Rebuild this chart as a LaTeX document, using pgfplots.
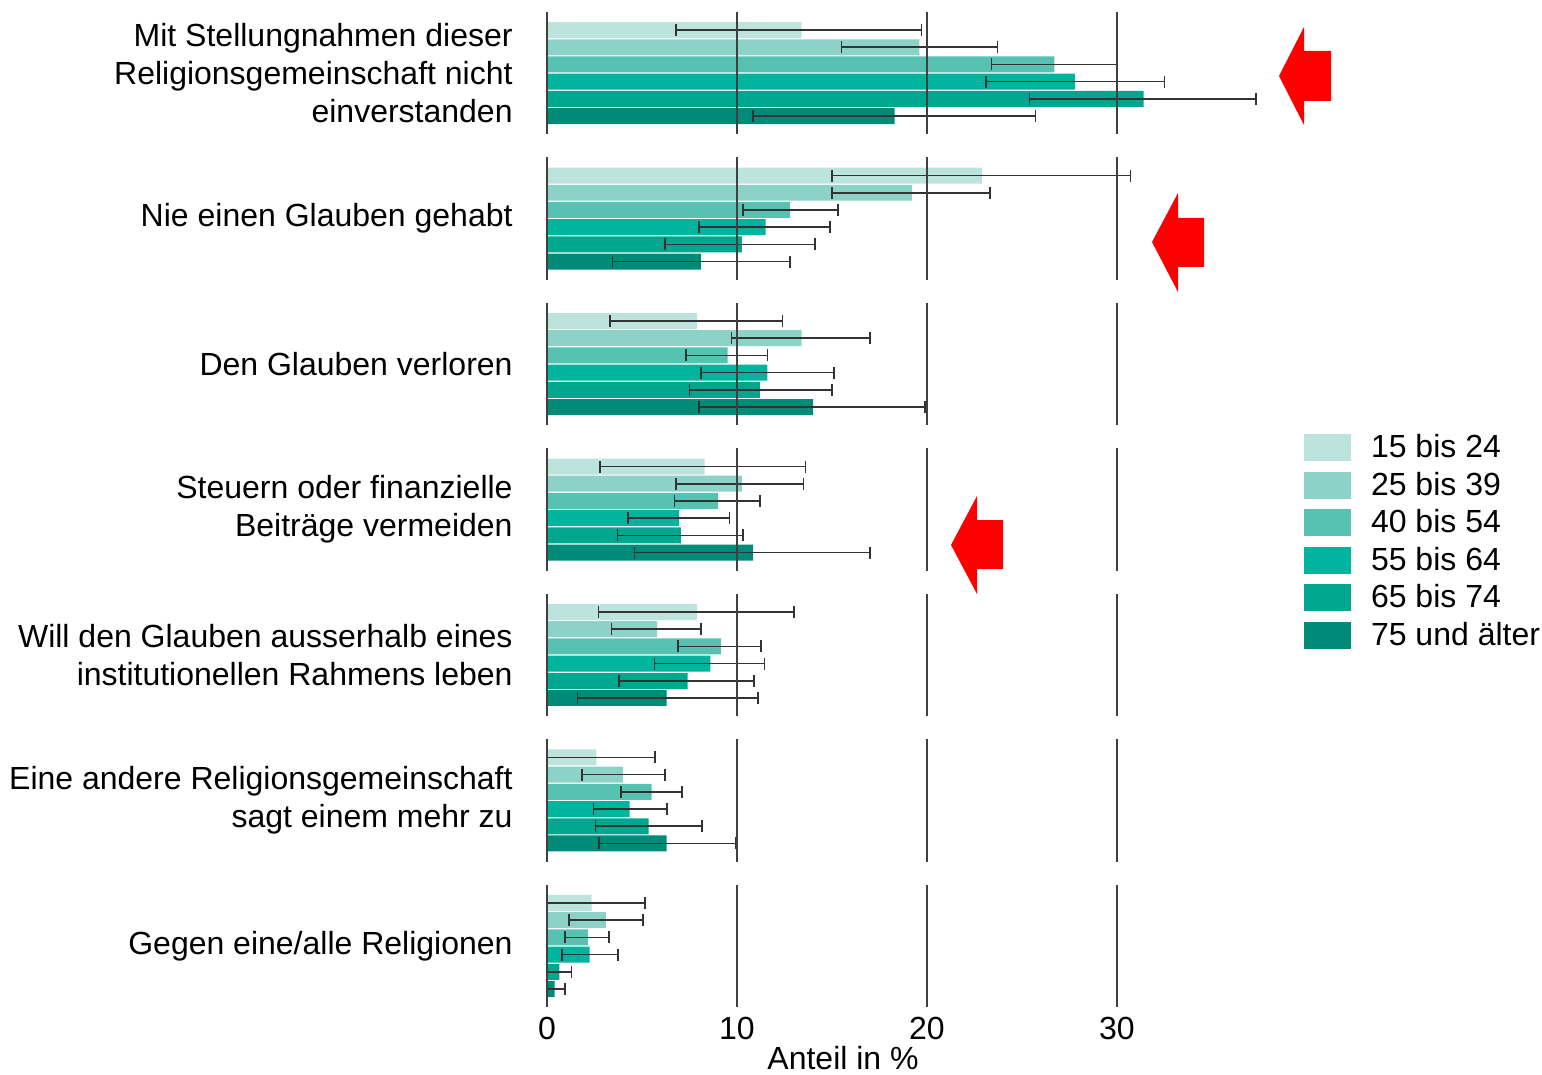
\documentclass[border=0pt]{standalone}
\usepackage{fontspec}
\setmainfont{Liberation Sans}
\usepackage{pgfplots}
\usepackage{pgfplotstable}
\pgfplotsset{compat=1.18}

\definecolor{c1}{HTML}{BDE4DC}
\definecolor{c2}{HTML}{8DD2C6}
\definecolor{c3}{HTML}{57C2B1}
\definecolor{c4}{HTML}{00B49E}
\definecolor{c5}{HTML}{00A78F}
\definecolor{c6}{HTML}{008B79}
\definecolor{errc}{HTML}{333333}
\definecolor{gridc}{HTML}{404040}

\newcommand{\lbl}{\fontsize{16}{19}\selectfont}

% p = panel (reason), v = share, lo/hi = interval
\pgfplotstableread{
p v lo hi
0 13.4 6.8 19.7
1 22.9 15.0 30.7
2 7.9 3.3 12.4
3 8.3 2.8 13.6
4 7.9 2.7 13.0
5 2.6 0.0 5.7
6 2.35 0.0 5.15
}\ta
\pgfplotstableread{
p v lo hi
0 19.6 15.5 23.7
1 19.2 15.0 23.3
2 13.4 9.7 17.0
3 10.25 6.8 13.5
4 5.8 3.4 8.1
5 4.0 1.85 6.2
6 3.1 1.15 5.05
}\tb
\pgfplotstableread{
p v lo hi
0 26.7 23.4 30.0
1 12.8 10.3 15.3
2 9.5 7.3 11.6
3 9.0 6.7 11.2
4 9.15 6.9 11.25
5 5.5 3.9 7.1
6 2.15 0.95 3.25
}\tc
\pgfplotstableread{
p v lo hi
0 27.8 23.1 32.5
1 11.5 8.0 14.9
2 11.6 8.1 15.1
3 6.95 4.25 9.6
4 8.6 5.65 11.45
5 4.35 2.45 6.3
6 2.25 0.8 3.75
}\td
\pgfplotstableread{
p v lo hi
0 31.4 25.4 37.3
1 10.25 6.2 14.1
2 11.2 7.5 15.0
3 7.05 3.7 10.3
4 7.4 3.8 10.9
5 5.35 2.55 8.15
6 0.65 0.0 1.3
}\te
\pgfplotstableread{
p v lo hi
0 18.3 10.85 25.7
1 8.1 3.45 12.8
2 14.0 8.0 19.9
3 10.85 4.6 17.0
4 6.3 1.6 11.1
5 6.3 2.75 9.95
6 0.4 0.0 0.95
}\tf

\pgfplotsset{
  agebar/.style={xbar, bar shift=0pt, bar width=0.93, draw=none, fill=#1,
    error bars/.cd, x dir=both, x explicit, error mark=|,
    error bar style={line width=0.8pt, draw=errc},
    error mark options={line width=0.8pt, draw=errc, mark size=3pt}},
}

\begin{document}
\begin{tikzpicture}
\useasboundingbox (0,0) rectangle (771pt,-537.5pt);
\begin{axis}[
  at={(273.5pt,-6pt)}, anchor=north west,
  scale only axis, width=356.25pt, height=497.5pt,
  xmin=0, xmax=37.5, ymin=-1.05, ymax=56.804, y dir=reverse,
  axis line style={draw=none}, major tick length=0pt,
  clip=false,
  xtick={0,10,20,30},
  ytick={2.5,10.959,19.418,27.877,36.336,44.795,53.254},
  yticklabels={
    {Mit Stellungnahmen dieser\\Religionsgemeinschaft nicht\\einverstanden},
    {Nie einen Glauben gehabt},
    {Den Glauben verloren},
    {Steuern oder finanzielle\\Beiträge vermeiden},
    {Will den Glauben ausserhalb eines\\institutionellen Rahmens leben},
    {Eine andere Religionsgemeinschaft\\sagt einem mehr zu},
    {Gegen eine/alle Religionen}},
  tick label style={font=\lbl, inner sep=0pt},
  yticklabel style={align=right, xshift=-17pt},
  xticklabel style={yshift=-5pt},
  /pgf/number format/assume math mode=true,
  xlabel={Anteil in \%},
  every axis x label/.style={at={(axis description cs:0.4155,0)}, anchor=north,
    yshift=-19.5pt, font=\lbl, inner sep=0pt},
  legend cell align=left,
  legend style={at={(axis description cs:1.0625,0.5759)}, anchor=north west,
    draw=none, fill=none, inner sep=0pt, outer sep=0pt, font=\lbl,
    row sep=5.25pt, nodes={inner sep=0pt}},
  legend image code/.code={\fill[#1,draw=none] (0pt,-6.75pt) rectangle (23.5pt,6.75pt); \path (33.5pt,0pt);},
]
\addplot[agebar=c1] table[x=v, y expr=\thisrow{p}*8.459+0,
  x error plus expr=\thisrow{hi}-\thisrow{v}, x error minus expr=\thisrow{v}-\thisrow{lo}] {\ta};
\addplot[agebar=c2] table[x=v, y expr=\thisrow{p}*8.459+1,
  x error plus expr=\thisrow{hi}-\thisrow{v}, x error minus expr=\thisrow{v}-\thisrow{lo}] {\tb};
\addplot[agebar=c3] table[x=v, y expr=\thisrow{p}*8.459+2,
  x error plus expr=\thisrow{hi}-\thisrow{v}, x error minus expr=\thisrow{v}-\thisrow{lo}] {\tc};
\addplot[agebar=c4] table[x=v, y expr=\thisrow{p}*8.459+3,
  x error plus expr=\thisrow{hi}-\thisrow{v}, x error minus expr=\thisrow{v}-\thisrow{lo}] {\td};
\addplot[agebar=c5] table[x=v, y expr=\thisrow{p}*8.459+4,
  x error plus expr=\thisrow{hi}-\thisrow{v}, x error minus expr=\thisrow{v}-\thisrow{lo}] {\te};
\addplot[agebar=c6] table[x=v, y expr=\thisrow{p}*8.459+5,
  x error plus expr=\thisrow{hi}-\thisrow{v}, x error minus expr=\thisrow{v}-\thisrow{lo}] {\tf};
\legend{15 bis 24, 25 bis 39, 40 bis 54, 55 bis 64, 65 bis 74, 75 und älter}
% panel grid lines
\pgfplotsinvokeforeach{0,...,6}{
  \draw[gridc, line width=0.9pt]
    (axis cs:0,{#1*8.459-1.05}) -- (axis cs:0,{#1*8.459+6.05})
    (axis cs:10,{#1*8.459-1.05}) -- (axis cs:10,{#1*8.459+6.05})
    (axis cs:20,{#1*8.459-1.05}) -- (axis cs:20,{#1*8.459+6.05})
    (axis cs:30,{#1*8.459-1.05}) -- (axis cs:30,{#1*8.459+6.05});
}
\end{axis}
\begin{scope}[x=0.5pt, y=-0.5pt]
\fill[red] (1279,76) -- (1304,27) -- (1304,51) -- (1331,51) -- (1331,101) -- (1304,101) -- (1304,125) -- cycle;
\fill[red] (1152,242) -- (1178,193) -- (1178,218) -- (1204,218) -- (1204,267) -- (1178,267) -- (1178,292) -- cycle;
\fill[red] (951,545) -- (977,496) -- (977,520) -- (1003,520) -- (1003,569) -- (977,569) -- (977,594) -- cycle;
\end{scope}
\end{tikzpicture}
\end{document}
